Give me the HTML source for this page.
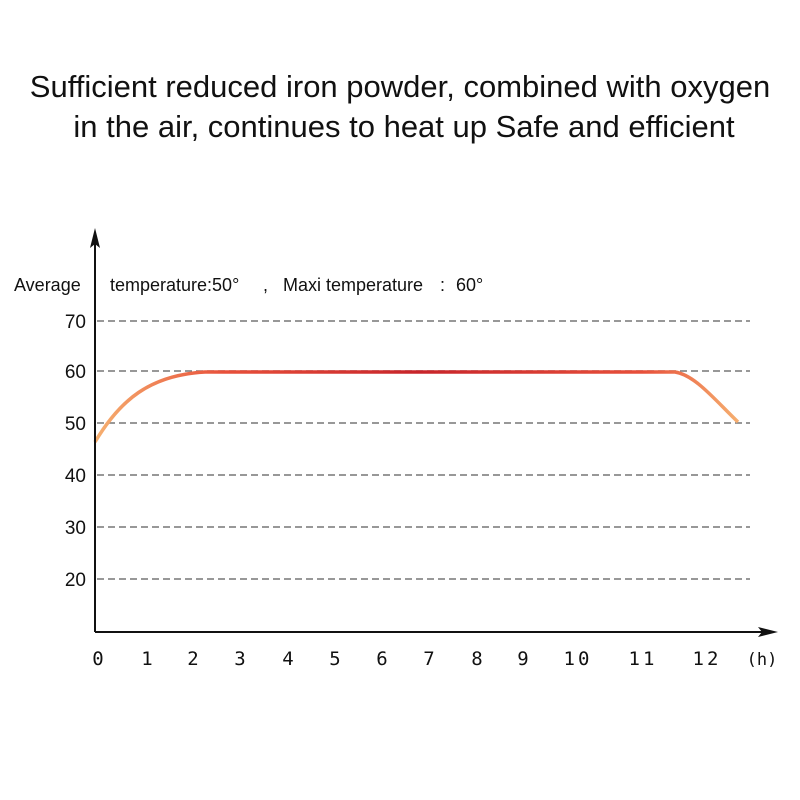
<!DOCTYPE html>
<html><head><style>body{margin:0;background:#fff}</style></head><body>
<svg width="800" height="800" xmlns="http://www.w3.org/2000/svg" style="display:block">
<defs><linearGradient id="g" x1="95" y1="0" x2="740" y2="0" gradientUnits="userSpaceOnUse">
<stop offset="0" stop-color="#f6b070"/><stop offset="0.2" stop-color="#e8503a"/><stop offset="0.5" stop-color="#c8242a"/><stop offset="0.85" stop-color="#e8503a"/><stop offset="1" stop-color="#f6b070"/></linearGradient></defs>
<g font-family="Liberation Sans, sans-serif" fill="#111">
<text x="400" y="97" font-size="31" text-anchor="middle">Sufficient reduced iron powder, combined with oxygen</text>
<text x="404" y="137" font-size="31" text-anchor="middle">in the air, continues to heat up Safe and efficient</text>
<text x="14" y="291" font-size="18">Average</text>
<text x="110" y="291" font-size="18">temperature:50°</text>
<text x="263" y="291" font-size="18">,</text>
<text x="283" y="291" font-size="18">Maxi temperature</text>
<text x="440" y="291" font-size="18">:</text>
<text x="456" y="291" font-size="18">60°</text>
<g font-size="19" text-anchor="end">
<text x="86" y="328">70</text><text x="86" y="378">60</text><text x="86" y="430">50</text><text x="86" y="482">40</text><text x="86" y="534">30</text><text x="86" y="586">20</text></g>
<g font-size="19" text-anchor="middle" font-family="DejaVu Sans Mono, monospace">
<text x="98" y="665">0</text><text x="147" y="665">1</text><text x="193" y="665">2</text><text x="240" y="665">3</text><text x="288" y="665">4</text><text x="335" y="665">5</text><text x="382" y="665">6</text><text x="429" y="665">7</text><text x="477" y="665">8</text><text x="523" y="665">9</text><text x="578" y="665" letter-spacing="3">10</text><text x="643" y="665" letter-spacing="3">11</text><text x="707" y="665" letter-spacing="3">12</text><text x="762" y="665" font-size="17">(h)</text></g>
</g>
<g stroke="#777" stroke-width="1.5" stroke-dasharray="7,4">
<line x1="97" y1="321" x2="750" y2="321"/><line x1="97" y1="371" x2="750" y2="371"/><line x1="97" y1="423" x2="750" y2="423"/><line x1="97" y1="475" x2="750" y2="475"/><line x1="97" y1="527" x2="750" y2="527"/><line x1="97" y1="579" x2="750" y2="579"/></g>
<path d="M95 442 C120 400 150 375 205 372 L675 372 C695 375 715 400 738 422" fill="none" stroke="url(#g)" stroke-width="3.5"/>
<g stroke="#111" stroke-width="2"><line x1="95" y1="240" x2="95" y2="632"/><line x1="95" y1="632" x2="765" y2="632"/></g>
<path d="M95 228 L90 248 L95 244 L100 248Z" fill="#111"/>
<path d="M778 632 L758 627 L762 632 L758 637Z" fill="#111"/>
</svg>
</body></html>
